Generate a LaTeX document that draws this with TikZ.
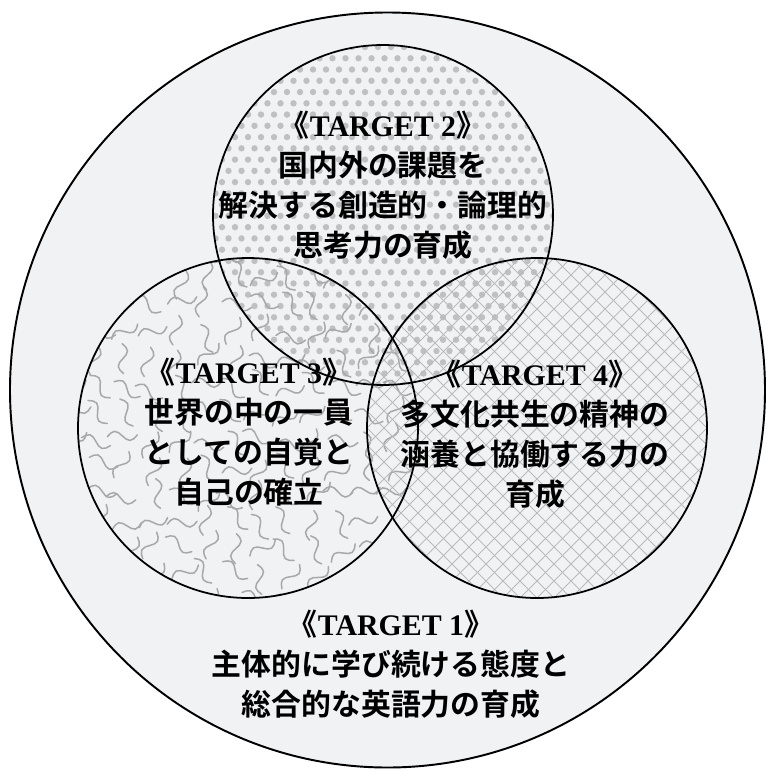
\documentclass[tikz,border=0pt]{standalone}
\usepackage{fontspec}
\setmainfont{Liberation Serif}
\newfontfamily\cjk{Noto Sans CJK JP Bold}
\usetikzlibrary{calc}

\definecolor{paper}{HTML}{F1F2F4}
\definecolor{dotgray}{HTML}{BFC0C2}
\definecolor{wavegray}{HTML}{A7A8AA}
\definecolor{hatchgray}{HTML}{B9BABC}

\newcommand\tgt[1]{《{\rmfamily\bfseries TARGET #1}》}

\begin{document}
\begin{tikzpicture}[x=0.02cm,y=-0.02cm,
  lbl/.style={align=center,inner sep=0pt,font=\cjk\fontsize{17}{22.8}\selectfont},
  ring/.style={draw=black,line width=1pt}]
  \useasboundingbox (0,0) rectangle (766,771);
  \coordinate (c1) at (387.5,390);
  \coordinate (c2) at (383,215);
  \coordinate (c3) at (248,428);
  \coordinate (c4) at (537,428);
  \fill[paper] (c1) circle (377.5);

  % dots
  \begin{scope}
    \clip (c2) circle (170);
    \foreach \i in {0,...,27} \foreach \j in {0,...,31}
      \fill[dotgray] ({209+\i*13+mod(\j,2)*6.5},{47+\j*11.26}) circle (3.2);
  \end{scope}

  % squiggles
  \begin{scope}
    \clip (c3) circle (170);
    \pgfmathsetseed{7}
    \foreach \i in {0,...,13} \foreach \j in {0,...,13} {
      \pgfmathsetmacro\xx{72+\i*27+rand*6}
      \pgfmathsetmacro\yy{252+\j*27+rand*6}
      \pgfmathsetmacro\rr{rnd*180}
      \draw[wavegray,line width=0.85pt,line cap=round,rotate around={\rr:(\xx,\yy)}]
        (\xx-15,\yy) sin (\xx-7.5,\yy-5) cos (\xx,\yy) sin (\xx+7.5,\yy+5) cos (\xx+15,\yy);
    }
  \end{scope}

  % crosshatch
  \begin{scope}
    \clip (c4) circle (170);
    \foreach \k in {-17,...,17} {
      \draw[hatchgray,line width=0.5pt] ($(c4)+(\k*17,0)+(-300,-300)$) -- ++(600,600);
      \draw[hatchgray,line width=0.5pt] ($(c4)+(\k*17,0)+(-300,300)$) -- ++(600,-600);
    }
  \end{scope}

  \draw[ring,line width=1.1pt] (c1) circle (377.5);
  \draw[ring] (c2) circle (170);
  \draw[ring] (c3) circle (170);
  \draw[ring] (c4) circle (170);

  \node[lbl] (t2) at (383,185) {\tgt{2}\\国内外の課題を\\解決する創造的・論理的\\思考力の育成};
  \node[lbl] (t3) at (249,432) {\tgt{3}\\世界の中の一員\\としての自覚と\\自己の確立};
  \node[lbl] (t4) at (535,434) {\tgt{4}\\多文化共生の精神の\\涵養と協働する力の\\育成};
  \node[lbl] (t1) at (391,664) {\tgt{1}\\主体的に学び続ける態度と\\総合的な英語力の育成};
\end{tikzpicture}
\end{document}
